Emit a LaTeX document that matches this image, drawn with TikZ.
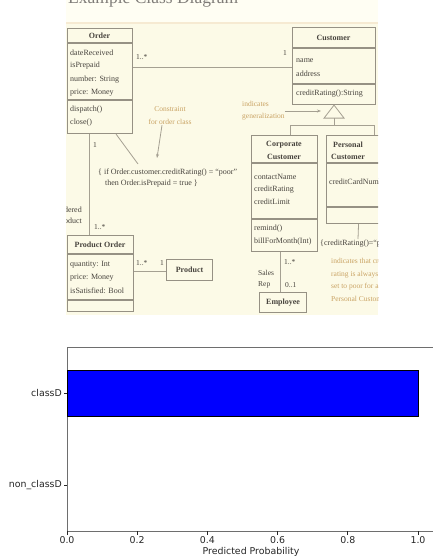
\documentclass[tikz,border=0pt]{standalone}
\usepackage{fontspec}
\setmainfont{Liberation Serif}
\newfontfamily\chartfont{DejaVu Sans}
\usetikzlibrary{arrows.meta}

% palette of the scanned class diagram and of the bar chart
\definecolor{paper}{RGB}{252,250,231}
\definecolor{band}{RGB}{255,254,243}
\definecolor{bandline}{RGB}{246,234,210}
\definecolor{boxline}{RGB}{150,145,132}
\definecolor{linkline}{RGB}{165,160,146}
\definecolor{umltext}{RGB}{72,68,62}
\definecolor{notecol}{RGB}{201,163,100}
\definecolor{charttext}{RGB}{38,38,38}
\definecolor{spine}{RGB}{110,110,110}

\begin{document}
\begin{tikzpicture}[x=1pt,y=-1pt,
  umlbox/.style={draw=boxline, line width=1.1pt, inner sep=0pt, anchor=north west},
  rule/.style={draw=boxline, line width=1.1pt},
  link/.style={draw=linkline, line width=0.8pt},
  pointer/.style={link, -{Stealth[length=4pt,width=3pt]}},
  txt/.style={inner sep=0pt, text=umltext, font=\fontsize{8}{9}\selectfont},
  attr/.style={txt, anchor=west},
  ttl/.style={inner sep=0pt, text=umltext, font=\fontsize{8}{9}\selectfont\bfseries},
  mult/.style={txt, anchor=west, font=\fontsize{7.5}{9}\selectfont},
  note/.style={inner sep=0pt, text=notecol, font=\fontsize{7.5}{12.7}\selectfont},
  ctick/.style={draw=charttext, line width=0.7pt},
  clabel/.style={inner sep=0pt, text=charttext, font=\chartfont\fontsize{9.4}{11}\selectfont}]

\useasboundingbox (0,0) rectangle (433,560);
\fill[white] (0,0) rectangle (433,560);

% ---------------- class diagram panel ----------------
\fill[paper] (66,0) rectangle (378,315);
\fill[band] (66,0) rectangle (378,22);
\draw[bandline, line width=1.5pt] (66,23) -- (378,23);

\begin{scope}
\clip (66,0) rectangle (378,315);

% heading of the sheet, only its lower edge lies inside the panel
\node[inner sep=0pt, anchor=base west, text=umltext!70,
      font=\fontsize{17.5}{20}\selectfont] (title) at (68,3) {Example Class Diagram};

% Order
\node[umlbox, minimum width=65pt, minimum height=105pt] (order) at (67,28) {};
\draw[rule] (67,43) -- (132,43);
\draw[rule] (67,100) -- (132,100);
\node[ttl] (orderT) at (99.5,36) {Order};
\node[attr] (o1) at (70,53) {dateReceived};
\node[attr] (o2) at (70,66) {isPrepaid};
\node[attr] (o3) at (70,80) {number: String};
\node[attr] (o4) at (70,93) {price: Money};
\node[attr] (o5) at (70,110) {dispatch()};
\node[attr] (o6) at (70,123) {close()};

% Customer
\node[umlbox, minimum width=83pt, minimum height=77pt] (customer) at (292,27) {};
\draw[rule] (292,48) -- (375,48);
\draw[rule] (292,84) -- (375,84);
\node[ttl] (custT) at (333.5,38) {Customer};
\node[attr] (c1) at (296,61) {name};
\node[attr] (c2) at (296,74) {address};
\node[attr] (c3) at (296,94) {creditRating():String};

% Corporate Customer
\node[umlbox, minimum width=66pt, minimum height=116pt] (corp) at (251,135) {};
\draw[rule] (251,163) -- (317,163);
\draw[rule] (251,219) -- (317,219);
\node[ttl] (corpT1) at (284,145) {Corporate};
\node[ttl] (corpT2) at (284,157) {Customer};
\node[attr] (k1) at (254,177) {contactName};
\node[attr] (k2) at (254,190) {creditRating};
\node[attr] (k3) at (254,202) {creditLimit};
\node[attr] (k4) at (254,229) {remind()};
\node[attr] (k5) at (254,242) {billForMonth(Int)};

% Personal Customer
\node[umlbox, minimum width=96pt, minimum height=88pt] (pers) at (326,135) {};
\draw[rule] (326,163) -- (422,163);
\draw[rule] (326,207) -- (422,207);
\node[ttl] (persT1) at (348,145) {Personal};
\node[ttl] (persT2) at (348,157) {Customer};
\node[attr] (p1) at (329,182) {creditCardNumber};

% Product Order
\node[umlbox, minimum width=66pt, minimum height=76pt] (porder) at (67,235) {};
\draw[rule] (67,254) -- (133,254);
\draw[rule] (67,300) -- (133,300);
\node[ttl] (porderT) at (100,245) {Product Order};
\node[attr] (q1) at (70,265) {quantity: Int};
\node[attr] (q2) at (70,278) {price: Money};
\node[attr] (q3) at (70,291) {isSatisfied: Bool};

% Product and Employee
\node[umlbox, minimum width=46pt, minimum height=21pt] (product) at (166,259) {};
\node[ttl] (productT) at (product.center) {Product};
\node[umlbox, minimum width=47pt, minimum height=20pt] (employee) at (259,292) {};
\node[ttl] (employeeT) at (employee.center) {Employee};

% associations
\coordinate (oc) at (200,67);
\draw[link] (order.east |- oc) -- (customer.west |- oc);
\node[mult] (m1) at (136,57) {1..*};
\node[mult] (m2) at (283,53) {1};

\coordinate (op) at (89,180);
\draw[link] (order.south -| op) -- (porder.north -| op);
\node[mult] (m3) at (93,145) {1};
\node[mult] (m4) at (94,227) {1..*};
\node[txt, anchor=east] (r1) at (82,210) {Ordered};
\node[txt, anchor=east] (r2) at (82,221) {Product};

\coordinate (pp) at (150,271);
\draw[link] (porder.east |- pp) -- (product.west |- pp);
\node[mult] (m5) at (136,263) {1..*};
\node[mult] (m6) at (160,263) {1};

\coordinate (ce) at (280,270);
\draw[link] (corp.south -| ce) -- (employee.north -| ce);
\node[mult] (m7) at (284,262) {1..*};
\node[mult] (m8) at (258,273) {Sales};
\node[mult] (m9) at (258,285) {Rep};
\node[mult] (m10) at (285,285) {0..1};

% generalization
\draw[link, fill=paper] (customer.south) -- ++(-10,13) -- ++(20,0) -- cycle;
\path (customer.south) ++(0,13) coordinate (gbase);
\coordinate (cj) at (290,125);
\coordinate (pj) at (374,125);
\draw[link] (gbase) -- (gbase |- cj);
\draw[link] (cj) -- (pj);
\draw[link] (cj) -- (cj |- corp.north);
\draw[link] (pj) -- (pj |- pers.north);

% notes and constraints
\node[note, align=left, anchor=west, font=\fontsize{7.5}{12}\selectfont] (gnote) at (242,111) {indicates\\generalization};
\coordinate (trileft) at (321,111);
\draw[pointer] (gnote.east) -- (trileft);

\node[note, align=center, font=\fontsize{7.5}{13}\selectfont] (cnote) at (170,116) {Constraint\\for order class};
\node[attr] (ct1) at (98,173) {\{ if Order.customer.creditRating() = ``poor''};
\node[attr] (ct2) at (105,184) {then Order.isPrepaid = true \}};
\coordinate (carrow) at (157,158);
\draw[pointer] ([xshift=-8pt]cnote.south) -- (carrow);
\coordinate (corderend) at (138,164);
\draw[link] ([xshift=16pt]order.south) -- (corderend);

\node[attr] (pc) at (320,244) {\{creditRating()=``poor''\}};
\coordinate (pctop) at (358,239);
\draw[link] ([xshift=-16pt]pers.south) -- (pctop);
\node[note, align=left, anchor=west] (pnote) at (331,280)
  {indicates that credit\\rating is always\\set to poor for a\\Personal Customer};
\end{scope}

% ---------------- bar chart ----------------
\node[draw=spine, line width=0.9pt, inner sep=0pt, anchor=north west,
      minimum width=368pt, minimum height=184pt] (axes) at (67,347) {};
\node[fill=blue, draw=black, line width=0.6pt, inner sep=0pt, anchor=north west,
      minimum width=351pt, minimum height=46pt] (barD) at (67,370) {};

\node[clabel, anchor=east] (yD) at (62,393) {classD};
\node[clabel, anchor=east] (yN) at (62,485) {non\_classD};
\draw[ctick] (64,393) -- (67,393);
\draw[ctick] (64,485) -- (67,485);

\foreach \xx/\lab [count=\i] in {67/0.0, 137.2/0.2, 207.4/0.4, 277.6/0.6, 347.8/0.8, 418/1.0} {
  \draw[ctick] (\xx,531) -- (\xx,534.5);
  \node[clabel] (xt\i) at (\xx,540.5) {\lab};
}
\node[clabel] (xlab) at (251,552) {Predicted Probability};
\end{tikzpicture}
\end{document}
